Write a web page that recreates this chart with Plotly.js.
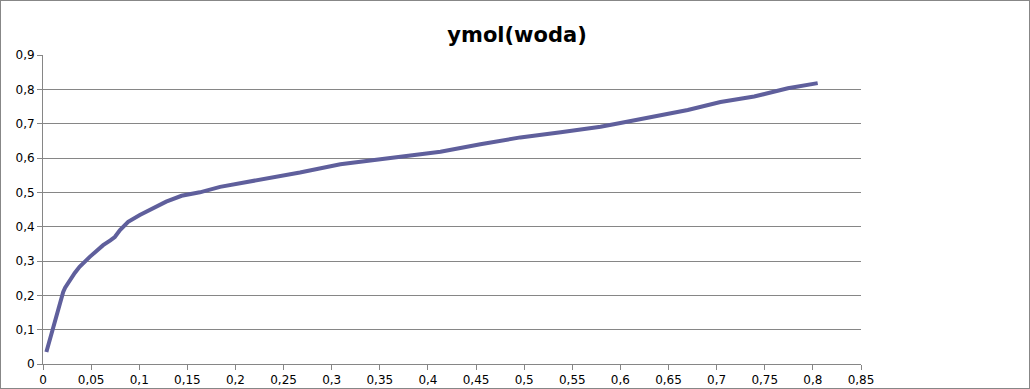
<!DOCTYPE html>
<html>
<head>
<meta charset="utf-8">
<script src="https://cdn.plot.ly/plotly-3.0.1.min.js"></script>
<style>
html,body{margin:0;padding:0;background:#fff;}
#wrap{position:relative;width:1030px;height:389px;}
#chart{width:1030px;height:389px;}
#frame{position:absolute;left:0;top:0;width:1030px;height:389px;box-sizing:border-box;border:1px solid #878787;pointer-events:none;}
</style>
</head>
<body>
<div id="wrap"><div id="chart"></div><div id="frame"></div></div>
<script>
const chartTitle = 'ymol(woda)';
const xVals = [0.0035,0.007,0.0104,0.015,0.019,0.021,0.023,0.0278,0.033,0.038,0.043,0.0486,0.055,0.0625,0.07,0.0746,0.08,0.0885,0.1006,0.111,0.128,0.144,0.163,0.184,0.2255,0.267,0.309,0.33,0.35,0.371,0.392,0.413,0.4545,0.496,0.538,0.5794,0.60,0.621,0.635,0.67,0.704,0.739,0.774,0.805];
const yVals = [0.035,0.07,0.108,0.155,0.195,0.21,0.222,0.244,0.265,0.283,0.298,0.312,0.328,0.346,0.36,0.37,0.39,0.414,0.434,0.45,0.473,0.49,0.5,0.516,0.536,0.558,0.582,0.589,0.596,0.604,0.612,0.618,0.64,0.66,0.675,0.691,0.702,0.713,0.72,0.74,0.763,0.779,0.803,0.818];

const gridCol = '#868686';
const trace = {
  x: xVals, y: yVals, type: 'scatter', mode: 'lines',
  line: {color: '#5f5f9c', width: 4},
  hoverinfo: 'skip'
};
const layout = {
  width: 1030, height: 389,
  margin: {l: 43, r: 169, t: 55, b: 25, pad: 0},
  paper_bgcolor: '#ffffff', plot_bgcolor: '#ffffff',
  separators: ', ',
  showlegend: false,
  font: {family: 'DejaVu Sans', size: 12, color: '#000000'},
  title: {
    text: '<b>' + chartTitle + '</b>',
    font: {family: 'DejaVu Sans', size: 21, color: '#000000'},
    xref: 'container', x: 0.502, xanchor: 'center',
    yref: 'container', y: 0.912, yanchor: 'middle'
  },
  xaxis: {
    range: [0, 0.85], dtick: 0.05, tick0: 0,
    showgrid: false, zeroline: false,
    showline: true, linecolor: gridCol, linewidth: 1,
    ticks: 'outside', ticklen: 5, tickcolor: gridCol, tickwidth: 1,
    tickfont: {family: 'DejaVu Sans', size: 12, color: '#000000'}
  },
  yaxis: {
    range: [0, 0.9], dtick: 0.1, tick0: 0,
    showgrid: true, gridcolor: gridCol, gridwidth: 1,
    zeroline: false,
    showline: true, linecolor: gridCol, linewidth: 1,
    ticks: 'outside', ticklen: 5, tickcolor: gridCol, tickwidth: 1,
    tickfont: {family: 'DejaVu Sans', size: 12, color: '#000000'}
  }
};
Plotly.newPlot('chart', [trace], layout, {displayModeBar: false, staticPlot: true});
</script>
</body>
</html>
